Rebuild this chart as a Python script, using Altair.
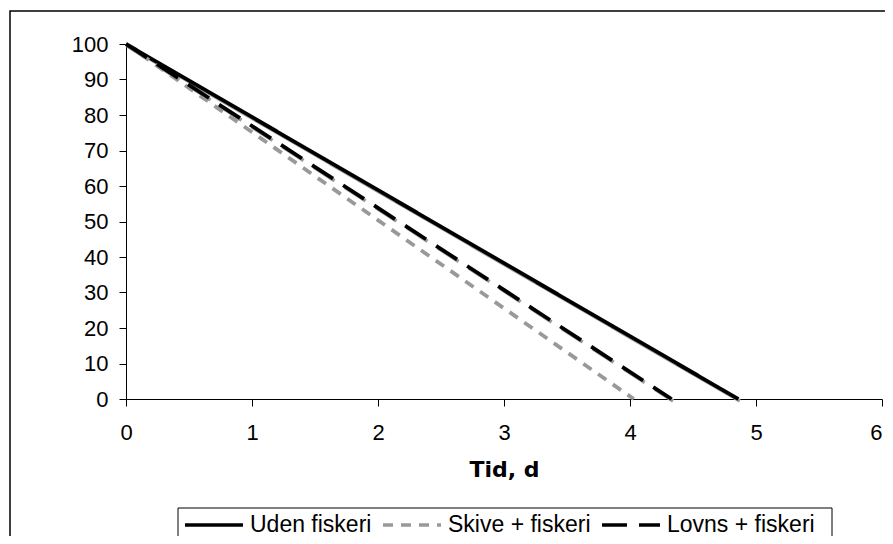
import altair as alt
import pandas as pd

series = ["Uden fiskeri", "Skive + fiskeri", "Lovns + fiskeri"]
start_t = [0, 0, 0]
end_t = [4.86, 4.03, 4.33]
start_v = [100, 100, 100]
end_v = [0, 0, 0]
colors = ["#000000", "#999999", "#000000"]
dashes = [[1, 0], [10, 8], [25, 12]]
x_ticks = [0, 1, 2, 3, 4, 5, 6]
y_ticks = [0, 10, 20, 30, 40, 50, 60, 70, 80, 90, 100]

rows = []
for s, t0, t1, v0, v1 in zip(series, start_t, end_t, start_v, end_v):
    rows.append({"serie": s, "t": t0, "v": v0})
    rows.append({"serie": s, "t": t1, "v": v1})
df = pd.DataFrame(rows)

x_enc = alt.X("t:Q", scale=alt.Scale(domain=[0, 6], nice=False, zero=False),
              axis=alt.Axis(values=x_ticks, title="Tid, d", grid=False, tickSize=7,
                            labelPadding=16, titlePadding=16, format="d",
                            labelFlush=False,
                            labelAlign=alt.ExprRef("datum.value == 6 ? 'right' : 'center'")))
y_enc = alt.Y("v:Q", scale=alt.Scale(domain=[0, 100], nice=False),
              axis=alt.Axis(values=y_ticks, title=None, grid=False, tickSize=7,
                            labelPadding=11, labelFlush=False))

base = alt.Chart(df)

shadows = []
for s, d in zip(["Uden fiskeri", "Lovns + fiskeri"], [[1, 0], [25, 12]]):
    shadows.append(
        base.transform_filter(alt.datum.serie == s)
        .mark_line(color="#9a9a9a", strokeWidth=3.5, strokeDash=d, strokeCap="butt",
                   xOffset=1.5, yOffset=2)
        .encode(x=x_enc, y=y_enc)
    )

lines = base.mark_line(strokeWidth=3.8, strokeCap="butt").encode(
    x=x_enc,
    y=y_enc,
    color=alt.Color("serie:N", scale=alt.Scale(domain=series, range=colors),
                    legend=alt.Legend(title=None)),
    strokeDash=alt.StrokeDash("serie:N", scale=alt.Scale(domain=series, range=dashes),
                              legend=alt.Legend(title=None)),
)

deco = pd.DataFrame({"a": [0]})
border = alt.Chart(deco).mark_rect(
    fill=None, stroke="#000000", strokeWidth=1.5
).encode(
    x=alt.value(-116), x2=alt.value(900), y=alt.value(-33), y2=alt.value(700)
)
legend_box = alt.Chart(deco).mark_rect(
    fill=None, stroke="#000000", strokeWidth=1
).encode(
    x=alt.value(52), x2=alt.value(706), y=alt.value(464), y2=alt.value(520)
)

chart = alt.layer(border, legend_box, *shadows, lines).properties(
    width=756, height=355,
    autosize=alt.AutoSizeParams(type="none"),
    padding={"left": 118, "top": 36, "right": 3, "bottom": 137},
).configure_view(stroke=None).configure_axis(
    labelFont="Liberation Sans", labelFontSize=22, labelColor="#000000",
    domainColor="#000000", tickColor="#000000", domainWidth=1, tickWidth=1,
    titleFont="DejaVu Sans", titleFontSize=22, titleFontWeight="bold", titleColor="#000000",
).configure_legend(
    orient="none", legendX=52, legendY=445, direction="horizontal",
    padding=5, labelFont="Liberation Sans", labelFontSize=23,
    labelColor="#000000", symbolType="stroke", symbolSize=3364, symbolStrokeWidth=3.5,
    labelOffset=5, columnPadding=4, labelLimit=300,
)

chart.save("out.html", embed_options={"renderer": "svg", "actions": False})
